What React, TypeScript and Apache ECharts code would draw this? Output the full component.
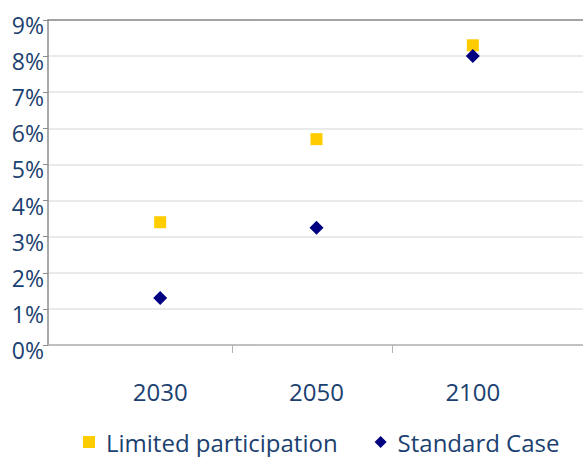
import React, { useEffect, useRef } from "react";
import * as echarts from "echarts";

const categories = ["2030", "2050", "2100"];
const limitedParticipation = [3.4, 5.7, 8.3];
const standardCase = [1.3, 3.25, 8.0];
const yMin = 0;
const yMax = 9;
const yStep = 1;

const textColor = "#1b4170";
const fontFamily = "'Open Sans', sans-serif";

export default function App() {
  const ref = useRef<HTMLDivElement>(null);
  useEffect(() => {
    const chart = echarts.init(ref.current!, null, { renderer: "svg" });
    const hiddenValueX = {
      type: "value",
      min: 0,
      max: 1,
      axisTick: { show: false },
      axisLabel: { show: false },
      splitLine: { show: false },
    };
    chart.setOption({
      animation: false,
      backgroundColor: "#ffffff",
      grid: [
        { left: 48, right: 0, top: 20, bottom: 112 },
        { left: 82, right: 32, top: 20, bottom: 112 },
        { left: 232, right: 191, top: 20, bottom: 112 },
      ],
      xAxis: [
        {
          ...hiddenValueX,
          gridIndex: 0,
          position: "bottom",
          axisLine: { show: true, lineStyle: { color: "#b3b3b3", width: 1.5 } },
        },
        {
          ...hiddenValueX,
          gridIndex: 0,
          position: "top",
          axisLine: { show: true, lineStyle: { color: "#8c8c8c", width: 1.5 } },
        },
        {
          gridIndex: 1,
          type: "category",
          data: categories,
          axisLine: { show: false },
          axisTick: { show: false },
          axisLabel: { fontSize: 24, color: textColor, fontFamily, margin: 34 },
        },
        {
          gridIndex: 2,
          type: "value",
          min: 0,
          max: 1,
          interval: 1,
          axisLine: { show: false },
          axisTick: { show: true, length: 8, lineStyle: { color: "#b3b3b3" } },
          axisLabel: { show: false },
          splitLine: { show: false },
        },
      ],
      yAxis: [
        {
          gridIndex: 0,
          type: "value",
          min: yMin,
          max: yMax,
          interval: yStep,
          axisLine: { show: true, lineStyle: { color: "#8c8c8c", width: 1.5 } },
          axisTick: { show: true, length: 5, lineStyle: { color: "#8c8c8c" } },
          axisLabel: {
            formatter: "{value}%",
            fontSize: 23,
            color: textColor,
            fontFamily,
            margin: 4,
            verticalAlign: "top",
            lineHeight: 10,
          },
          splitLine: { show: true, lineStyle: { color: "#e3e3e3", width: 1.5 } },
        },
        { gridIndex: 1, type: "value", min: yMin, max: yMax, show: false },
        { gridIndex: 2, type: "value", min: yMin, max: yMax, show: false },
      ],
      legend: {
        left: 83,
        top: 430,
        padding: 0,
        itemWidth: 12,
        itemHeight: 12,
        itemGap: 37,
        textStyle: { fontSize: 24, color: textColor, fontFamily, padding: [0, 0, 0, 6] },
        data: [
          { name: "Limited participation", icon: "rect" },
          { name: "Standard Case", icon: "diamond" },
        ],
      },
      series: [
        {
          name: "Limited participation",
          type: "scatter",
          xAxisIndex: 2,
          yAxisIndex: 1,
          symbol: "rect",
          symbolSize: 12,
          itemStyle: { color: "#ffcc00", opacity: 1 },
          data: categories.map((c, i) => [c, limitedParticipation[i]]),
        },
        {
          name: "Standard Case",
          type: "scatter",
          xAxisIndex: 2,
          yAxisIndex: 1,
          symbol: "diamond",
          symbolSize: 14,
          itemStyle: { color: "#000080", opacity: 1 },
          data: categories.map((c, i) => [c, standardCase[i]]),
        },
      ],
    });
    return () => chart.dispose();
  }, []);
  return (
    <div
      ref={ref}
      style={{ position: "fixed", left: 0, top: 0, width: 583, height: 457 }}
    />
  );
}
